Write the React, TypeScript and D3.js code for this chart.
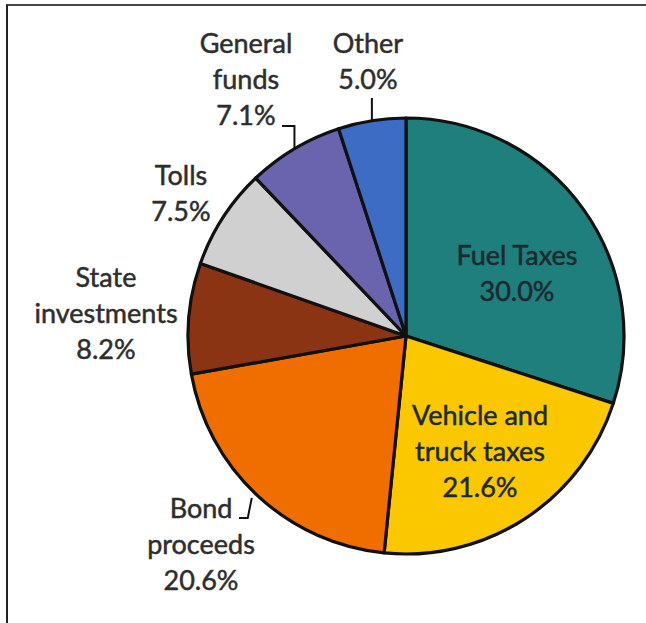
import React from "react";
import * as d3 from "d3";

const categories = ["Fuel Taxes", "Vehicle and truck taxes", "Bond proceeds", "State investments", "Tolls", "General funds", "Other"];
const values = [30.0, 21.6, 20.6, 8.2, 7.5, 7.1, 5.0];
const colors = ["#1e7f7c", "#fbc800", "#f06d00", "#8b3413", "#d0d0d0", "#6a63ad", "#3c6cc4"];
const labelLines = [
  ["Fuel Taxes", "30.0%"],
  ["Vehicle and", "truck taxes", "21.6%"],
  ["Bond", "proceeds", "20.6%"],
  ["State", "investments", "8.2%"],
  ["Tolls", "7.5%"],
  ["General", "funds", "7.1%"],
  ["Other", "5.0%"],
];
// label anchor (center x, first baseline y)
const labelPos: [number, number][] = [
  [517, 265],
  [480, 425],
  [201, 518],
  [106, 287],
  [181, 185],
  [246, 53],
  [368, 53],
];
const inside = [true, true, false, false, false, false, false];

const W = 646, H = 623;
const cx = 406, cy = 336, R = 218;
const lineH = 36;

export default function App() {
  const pie = d3.pie<number>().sort(null).value((d) => d);
  const arcs = pie(values);
  const arc = d3.arc<d3.PieArcDatum<number>>().innerRadius(0).outerRadius(R);
  const edge = (a: d3.PieArcDatum<number>) => {
    const m = (a.startAngle + a.endAngle) / 2;
    return [cx + R * Math.sin(m), cy - R * Math.cos(m)];
  };
  const [ox, oy] = edge(arcs[6]);
  const [gx, gy] = edge(arcs[5]);
  const [bx, by] = edge(arcs[2]);
  return (
    <svg width={W} height={H} style={{ position: "fixed", left: 0, top: 0, background: "#fff" }}
      fontFamily="Lato, 'DejaVu Sans', sans-serif">
      <line x1={6} y1={5} x2={W} y2={5} stroke="#444" strokeWidth={2} />
      <line x1={7} y1={5} x2={7} y2={H} stroke="#222" strokeWidth={2} />
      <g transform={`translate(${cx},${cy})`}>
        {arcs.map((a, i) => (
          <path key={categories[i]} d={arc(a) || ""} fill={colors[i]} stroke="#111" strokeWidth={3.2} strokeLinejoin="round" />
        ))}
      </g>
      {/* leader lines */}
      <polyline points={`${ox},${oy + 1} ${ox},${98}`} fill="none" stroke="#111" strokeWidth={2} />
      <polyline points={`${gx},${gy} ${gx},${126} ${282},${126}`} fill="none" stroke="#111" strokeWidth={2} />
      <polyline points={`${bx - 6},${by + 2} ${bx - 10},${518} ${239},${518}`} fill="none" stroke="#111" strokeWidth={2} />
      {labelLines.map((lines, i) => {
        const c = inside[i] ? "#1b2a2e" : "#2e2e2e";
        return (
          <text key={i} x={labelPos[i][0]} textAnchor="middle" fontSize={27}
            fill={c} stroke={c} strokeWidth={0.5}>
            {lines.map((t, j) => (
              <tspan key={j} x={labelPos[i][0]} y={labelPos[i][1] + j * lineH}>{t}</tspan>
            ))}
          </text>
        );
      })}
    </svg>
  );
}
